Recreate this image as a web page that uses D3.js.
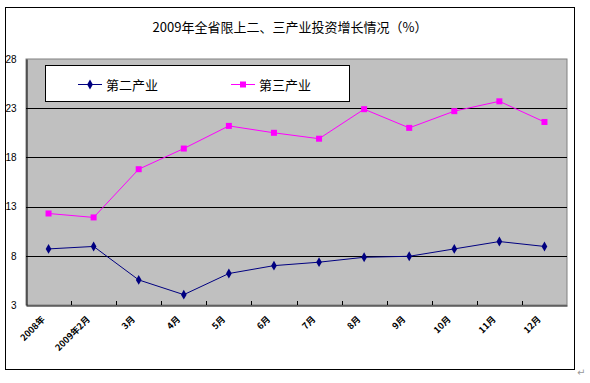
<!DOCTYPE html>
<html><head><meta charset="utf-8">
<script src="https://cdn.jsdelivr.net/npm/d3@7"></script>
<style>body{margin:0;background:#fff}svg{display:block}</style>
</head><body>
<script>
const categories = ["2008年","2009年2月","3月","4月","5月","6月","7月","8月","9月","10月","11月","12月"];
const secondary = [8.7, 8.95, 5.55, 4.05, 6.2, 7.0, 7.35, 7.85, 7.95, 8.7, 9.45, 8.95];
const tertiary = [12.3, 11.9, 16.8, 18.9, 21.2, 20.5, 19.9, 22.9, 21.0, 22.7, 23.7, 21.6];
const yTicks = [3, 8, 13, 18, 23, 28];
const seriesNames = ["第二产业", "第三产业"];
const title = "2009年全省限上二、三产业投资增长情况（%）";

const W = 590, H = 383;
const svg = d3.select("body").append("svg").attr("width", W).attr("height", H);
const cjk = "'Noto Sans CJK SC','SimSun',sans-serif";

// outer frame
svg.append("rect").attr("x", 5.5).attr("y", 7.5).attr("width", 569).attr("height", 362)
  .attr("fill", "#fff").attr("stroke", "#000").attr("stroke-width", 1);

const plot = {l: 26, r: 567, t: 59, b: 305};
const x = d3.scaleBand().domain(categories).range([plot.l, plot.r]).padding(0);
const y = d3.scaleLinear().domain([3, 28]).range([plot.b, plot.t]);

svg.append("rect").attr("x", plot.l).attr("y", plot.t).attr("width", plot.r - plot.l).attr("height", plot.b - plot.t)
  .attr("fill", "#C0C0C0").attr("stroke", "#808080").attr("stroke-width", 1);

// gridlines
svg.append("g").selectAll("line").data(yTicks.filter(d => d > 3 && d < 28)).join("line")
  .attr("x1", plot.l).attr("x2", plot.r)
  .attr("y1", d => Math.round(y(d)) + 0.5).attr("y2", d => Math.round(y(d)) + 0.5)
  .attr("stroke", "#000").attr("stroke-width", 1);

// y axis
const yAxis = svg.append("g").attr("transform", `translate(${plot.l + 0.5},0)`)
  .call(d3.axisLeft(y).tickValues(yTicks).tickSize(0).tickPadding(10).tickFormat(d3.format("d")));
yAxis.select(".domain").attr("stroke", "#000");
yAxis.selectAll("text").attr("font-family", "'Liberation Sans',Arial,sans-serif").attr("font-size", 10).attr("fill", "#000");

// x axis
const xAxis = svg.append("g").attr("transform", `translate(0,${plot.b + 0.5})`)
  .call(d3.axisBottom(x).tickSize(0).tickFormat(""));
xAxis.select(".domain").attr("stroke", "#000");
// tick marks between categories
svg.append("g").selectAll("line").data(categories.slice(1)).join("line")
  .attr("x1", d => Math.round(x(d)) + 0.5).attr("x2", d => Math.round(x(d)) + 0.5)
  .attr("y1", plot.b - 4).attr("y2", plot.b)
  .attr("stroke", "#000");
svg.append("g").selectAll("text").data(categories).join("text")
  .attr("transform", d => `translate(${x(d) + x.bandwidth() / 2 - 3},${plot.b + 15}) rotate(-45)`)
  .attr("text-anchor", "end").attr("font-family", cjk).attr("font-weight", "bold")
  .attr("font-size", 9).attr("fill", "#000").text(d => d);

const cx = (d, i) => x(categories[i]) + x.bandwidth() / 2;
const line = d3.line().x(cx).y(d => y(d));

svg.append("path").datum(secondary).attr("d", line).attr("fill", "none").attr("stroke", "#000080").attr("stroke-width", 1);
svg.append("path").datum(tertiary).attr("d", line).attr("fill", "none").attr("stroke", "#FF00FF").attr("stroke-width", 1);

svg.append("g").selectAll("path").data(secondary).join("path")
  .attr("transform", (d, i) => `translate(${cx(d, i)},${y(d)})`)
  .attr("d", d3.symbol().type(d3.symbolDiamond).size(28)).attr("fill", "#000080");
svg.append("g").selectAll("rect").data(tertiary).join("rect")
  .attr("x", (d, i) => cx(d, i) - 3).attr("y", d => y(d) - 3).attr("width", 6).attr("height", 6)
  .attr("fill", "#FF00FF");

// legend
const lg = svg.append("g");
lg.append("rect").attr("x", 45.5).attr("y", 65.5).attr("width", 304).attr("height", 36)
  .attr("fill", "#fff").attr("stroke", "#000");
const legItems = [
  {name: seriesNames[0], color: "#000080", x0: 78, shape: "diamond"},
  {name: seriesNames[1], color: "#FF00FF", x0: 231, shape: "square"}
];
legItems.forEach(it => {
  lg.append("line").attr("x1", it.x0).attr("x2", it.x0 + 24).attr("y1", 84.5).attr("y2", 84.5)
    .attr("stroke", it.color);
  if (it.shape === "diamond") {
    lg.append("path").attr("transform", `translate(${it.x0 + 12},84.5)`)
      .attr("d", d3.symbol().type(d3.symbolDiamond).size(28)).attr("fill", it.color);
  } else {
    lg.append("rect").attr("x", it.x0 + 9).attr("y", 81.5).attr("width", 6).attr("height", 6).attr("fill", it.color);
  }
  lg.append("text").attr("x", it.x0 + 28).attr("y", 89.5).attr("font-family", cjk)
    .attr("font-size", 13).attr("fill", "#000").text(it.name);
});

// title
svg.append("text").attr("x", 290).attr("y", 32).attr("text-anchor", "middle")
  .attr("font-family", cjk).attr("font-size", 13).attr("fill", "#000").text(title);

// paragraph mark
svg.append("text").attr("x", 577).attr("y", 376).attr("font-family", "'DejaVu Sans',sans-serif")
  .attr("font-size", 10).attr("fill", "#999").text("↵");
</script>
</body></html>
